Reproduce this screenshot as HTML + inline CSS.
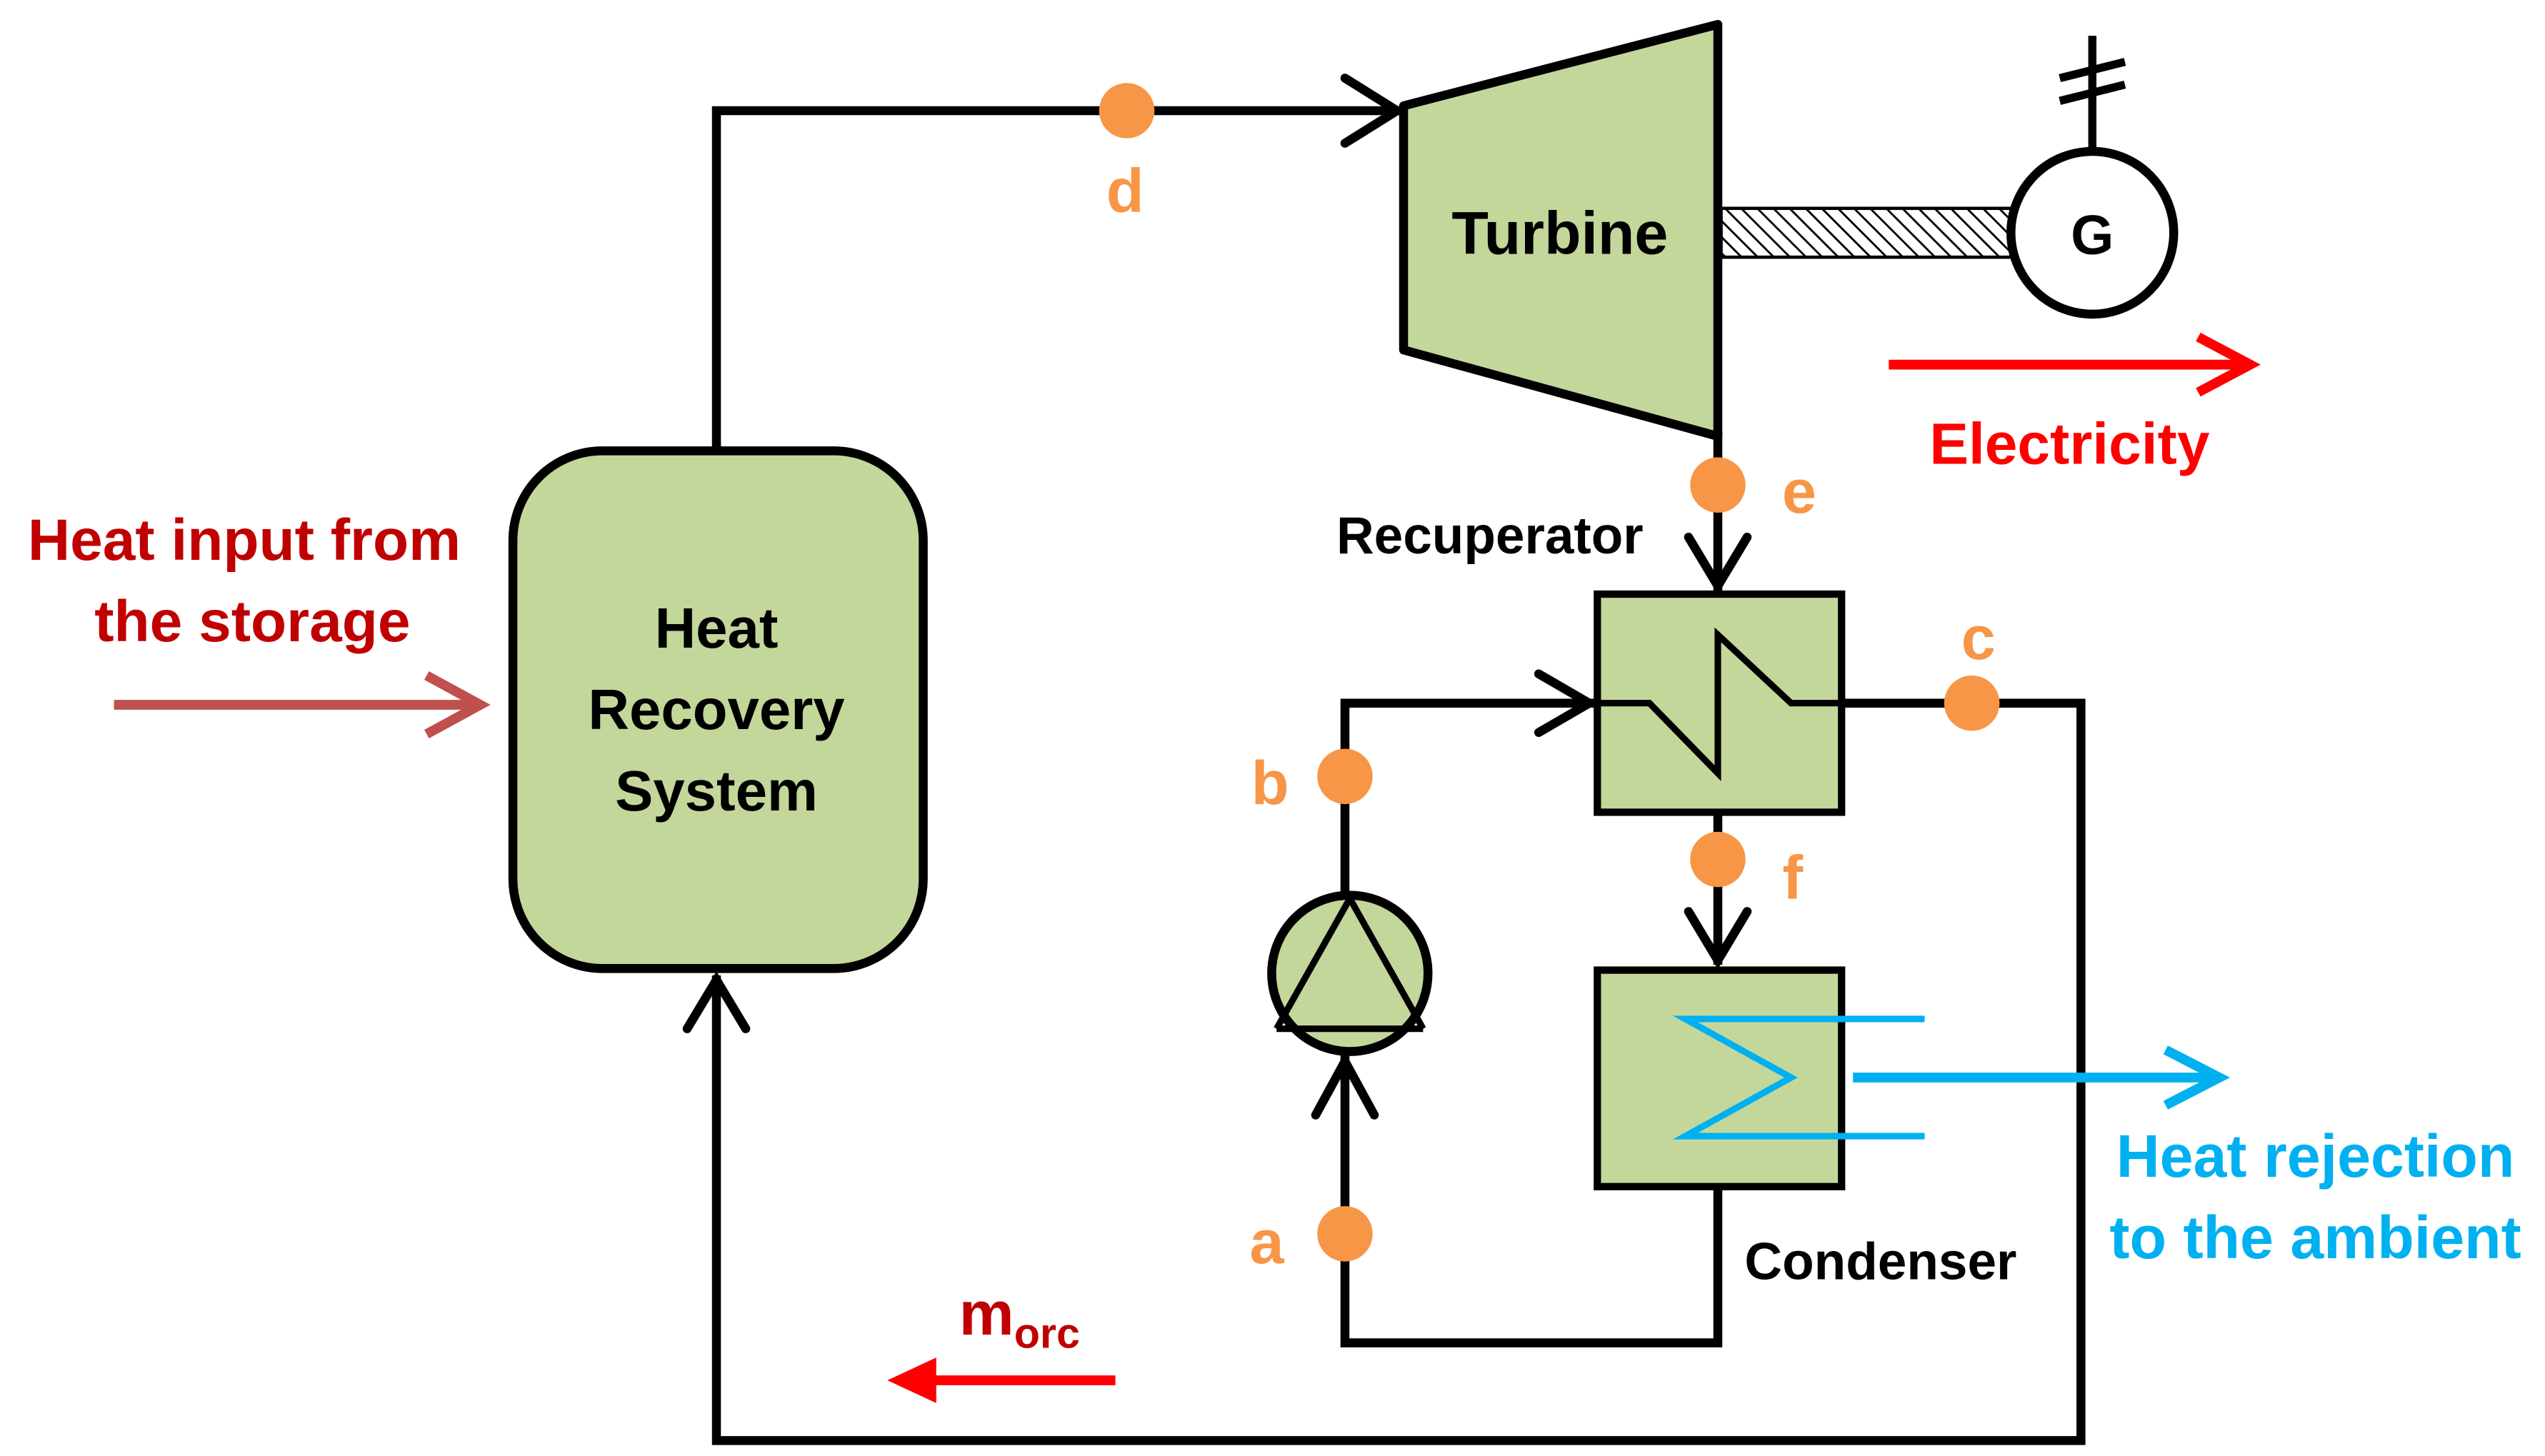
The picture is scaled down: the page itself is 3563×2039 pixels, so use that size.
<!DOCTYPE html>
<html><head><meta charset="utf-8"><style>
html,body{margin:0;padding:0;background:#fff;}
svg{display:block;}
text{font-family:"Liberation Sans",sans-serif;font-weight:bold;}
</style></head><body>
<svg width="3563" height="2039" viewBox="0 0 1563 894.5" preserveAspectRatio="none" xmlns="http://www.w3.org/2000/svg">
<defs>
<pattern id="h" width="7" height="7" patternUnits="userSpaceOnUse" patternTransform="rotate(-45)">
<rect width="7" height="7" fill="#fff"/><line x1="0" y1="0" x2="0" y2="7" stroke="#000" stroke-width="2.5"/>
</pattern>
</defs>
<g fill="none" stroke="#000" stroke-width="5.5" stroke-linecap="square">
<polyline points="440,275 440,68 858,68"/>
<polyline points="826,48 858,68 826,88" stroke-linecap="round"/>
<line x1="1055" y1="268" x2="1055" y2="360"/>
<polyline points="1037,330 1055,360 1073,330" stroke-linecap="round"/>
<polyline points="1131,432 1278,432 1278,885 440,885 440,602"/>
<polyline points="422,632 440,602 458,632" stroke-linecap="round"/>
<polyline points="826,550 826,432 976,432"/>
<polyline points="945,414 976,432 945,450" stroke-linecap="round"/>
<polyline points="826,650 826,825 1055,825 1055,729"/>
<polyline points="808,685 826,652 844,685" stroke-linecap="round"/>
<line x1="1055" y1="499" x2="1055" y2="590"/>
<polyline points="1037,560 1055,590 1073,560" stroke-linecap="round"/>
</g>
<polygon points="862,65 1055,15 1055,268 862,215" fill="#C4D79B" stroke="#000" stroke-width="5.5" stroke-linejoin="round"/>
<text x="958" y="156" font-size="37" text-anchor="middle">Turbine</text>
<rect x="1057" y="128" width="178" height="30" fill="url(#h)" stroke="#000" stroke-width="2"/>
<circle cx="1285" cy="143" r="50" fill="#fff" stroke="#000" stroke-width="5.5"/>
<text x="1285" y="156" font-size="34" text-anchor="middle">G</text>
<g stroke="#000" stroke-width="5">
<line x1="1285" y1="93" x2="1285" y2="22"/>
<line x1="1265" y1="48" x2="1305" y2="38"/>
<line x1="1265" y1="62" x2="1305" y2="52"/>
</g>
<g stroke="#FF0000" stroke-width="6" fill="none">
<line x1="1160" y1="224" x2="1378" y2="224"/>
<polyline points="1350,207 1382,224 1350,241"/>
</g>
<text x="1271" y="285" font-size="36" fill="#FF0000" text-anchor="middle">Electricity</text>
<text x="915" y="340" font-size="32" text-anchor="middle">Recuperator</text>
<rect x="981" y="365" width="150" height="134" fill="#C4D79B" stroke="#000" stroke-width="4.5"/>
<polyline points="981,432 1013,432 1055,475 1055,390 1100,432 1131,432" fill="none" stroke="#000" stroke-width="4"/>
<rect x="315" y="277" width="252" height="318" rx="55" fill="#C4D79B" stroke="#000" stroke-width="5.5"/>
<g font-size="35" text-anchor="middle">
<text x="440" y="398">Heat</text><text x="440" y="448">Recovery</text><text x="440" y="498">System</text>
</g>
<g font-size="36" fill="#C00000" text-anchor="middle">
<text x="150" y="344">Heat input from</text><text x="155" y="394">the storage</text>
</g>
<g stroke="#C0504D" stroke-width="6" fill="none">
<line x1="70" y1="433" x2="292" y2="433"/>
<polyline points="262,415 295,433 262,451"/>
</g>
<circle cx="829" cy="598" r="48" fill="#C4D79B" stroke="#000" stroke-width="5.5"/>
<polyline points="784,632 829,552 874,632" fill="none" stroke="#000" stroke-width="4"/>
<line x1="784" y1="632" x2="874" y2="632" stroke="#000" stroke-width="4"/>
<rect x="981" y="596" width="150" height="133" fill="#C4D79B" stroke="#000" stroke-width="4.5"/>
<polyline points="1182,626 1035,626 1100,662 1035,698 1182,698" fill="none" stroke="#00B0F0" stroke-width="4"/>
<g stroke="#00B0F0" stroke-width="6" fill="none">
<line x1="1138" y1="662" x2="1360" y2="662"/>
<polyline points="1330,645 1363,662 1330,679"/>
</g>
<g font-size="37" fill="#00B0F0" text-anchor="middle">
<text x="1422" y="723">Heat rejection</text><text x="1422" y="773">to the ambient</text>
</g>
<text x="1155" y="786" font-size="32" text-anchor="middle">Condenser</text>
<g stroke="#FF0000" stroke-width="6" fill="none">
<line x1="685" y1="848" x2="552" y2="848"/>
</g>
<polygon points="545,848 575,834 575,862" fill="#FF0000"/>
<text x="589" y="820" font-size="38" fill="#C00000">m<tspan font-size="26" dy="8">orc</tspan></text>
<g fill="#F79646">
<circle cx="692" cy="68" r="17"/><circle cx="1055" cy="298" r="17"/>
<circle cx="1211" cy="432" r="17"/><circle cx="826" cy="477" r="17"/>
<circle cx="1055" cy="528" r="17"/><circle cx="826" cy="758" r="17"/>
</g>
<g font-size="38" fill="#F79646" text-anchor="middle">
<text x="691" y="130">d</text><text x="1105" y="315">e</text>
<text x="1215" y="405">c</text><text x="780" y="494">b</text>
<text x="1101" y="552">f</text><text x="778" y="776">a</text>
</g>
</svg>
</body></html>
